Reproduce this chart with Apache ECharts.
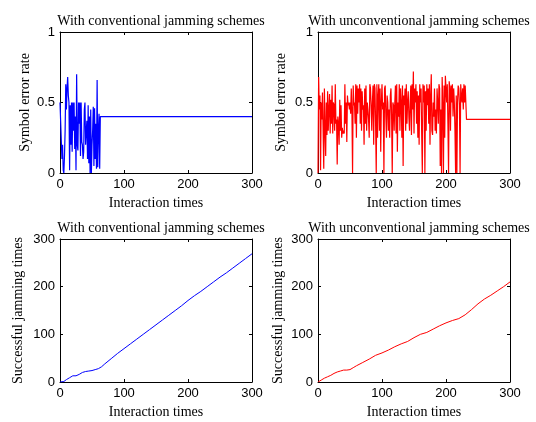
<!DOCTYPE html>
<html><head><meta charset="utf-8">
<script src="https://cdn.jsdelivr.net/npm/echarts@6/dist/echarts.min.js"></script>
<style>html,body{margin:0;padding:0;background:#fff}#c{width:536px;height:422px}</style>
</head><body><div id="c"></div>
<script>
// ---- data ----
const titles = ["With conventional jamming schemes","With unconventional jamming schemes","With conventional jamming schemes","With unconventional jamming schemes"];
const xName = "Interaction times";
const yNameTop = "Symbol error rate";
const yNameBottom = "Successful jamming times";
const xTicks = [0,100,200,300];
const yTicksTop = [0,0.5,1];
const yTicksBottom = [0,100,200,300];

// symbol error rate, conventional (x = index), then steady value to x=300
const serConv = [0.5,0.5,0.5,0.1,0.2,0.02,0.0,0.12,0.3,0.63,0.45,0.6,0.68,0.55,0.5,0.02,0.48,0.2,0.5,0.15,0.5,0.3,0.5,0.17,0.4,0.02,0.7,0.2,0.16,0.5,0.35,0.5,0.12,0.5,0.22,0.2,0.1,0.15,0.45,0.5,0.2,0.3,0.37,0.1,0.48,0.07,0.4,0.0,0.45,0.0,0.2,0.3,0.47,0.05,0.46,0.1,0.35,0.03,0.66,0.04,0.3,0.42,0.03,0.4];
const serConvSteady = 0.4;

// symbol error rate, unconventional
const serUnconv = [
0.0,0.68,0.45,0.55,0.02,0.5,0.38,0.57,0.3,0.03,
0.6,0.3,0.12,0.5,0.27,0.58,0.3,0.45,0.56,0.28,
0.52,0.35,0.62,0.28,0.5,0.48,0.3,0.63,0.35,0.38,
0.06,0.4,0.35,0.2,0.52,0.3,0.48,0.25,0.32,0.28,
0.3,0.28,0.63,0.35,0.5,0.22,0.55,0.48,0.5,0.45,
0.5,0.42,0.6,0.44,0.0,0.62,0.48,0.5,0.35,0.63,
0.25,0.62,0.42,0.6,0.5,0.63,0.35,0.6,0.3,0.58,
0.45,0.48,0.2,0.6,0.35,0.62,0.3,0.5,0.45,0.38,
0.25,0.63,0.6,0.48,0.3,0.5,0.62,0.2,0.63,0.6,
0.35,0.0,0.63,0.25,0.55,0.63,0.3,0.6,0.15,0.5,
0.63,0.45,0.5,0.0,0.6,0.62,0.4,0.25,0.55,0.5,
0.3,0.45,0.25,0.55,0.6,0.4,0.0,0.5,0.48,0.3,
0.5,0.62,0.28,0.63,0.15,0.5,0.4,0.63,0.3,0.6,
0.5,0.25,0.62,0.05,0.55,0.48,0.6,0.3,0.63,0.35,
0.5,0.58,0.4,0.3,0.5,0.62,0.27,0.63,0.45,0.72,
0.28,0.6,0.5,0.63,0.35,0.58,0.25,0.55,0.2,0.63,
0.5,0.6,0.28,0.0,0.63,0.5,0.62,0.0,0.58,0.3,
0.63,0.48,0.6,0.35,0.63,0.2,0.55,0.7,0.3,0.27,
0.5,0.4,0.6,0.3,0.45,0.28,0.6,0.5,0.35,0.63,
0.6,0.05,0.45,0.0,0.68,0.48,0.0,0.62,0.25,0.69,
0.6,0.5,0.63,0.35,0.0,0.65,0.6,0.3,0.62,0.5,
0.63,0.4,0.6,0.5,0.3,0.0,0.55,0.0,0.5,0.62,
0.6,0.48,0.0,0.63,0.55,0.5,0.6,0.45,0.63,0.5,
0.62,0.5,0.38];
const serUnconvSteady = 0.38;
const xEnd = 300;

// cumulative successful jamming times
const cumConvX = [0,3,6,10,15,20,25,30,35,40,45,50,55,60,65,70,80,90,100,110,120,130,140,150,160,170,180,190,200,210,220,230,240,250,260,270,280,290,300];
const cumConvY = [0,0,1,5,9,13,13,16,20,22,23,24,26,28,32,38,49,60,70,80,90,100,110,120,130,140,150,160,171,181,190,200,210,220,229,239,249,259,269];
const cumUnconvX = [0,5,10,15,20,25,30,35,40,45,50,55,60,70,80,90,100,110,120,130,140,150,160,170,180,190,200,210,220,230,240,250,260,270,280,290,300];
const cumUnconvY = [0,4,8,11,14,18,21,23,25,25,26,30,34,41,48,56,61,67,74,80,85,93,100,104,111,118,124,129,133,141,152,164,174,182,191,200,210];

// ---- chart ----
const sans = "Liberation Sans, Arial, sans-serif";
const serif = "Liberation Serif, Times New Roman, serif";
const grids = [
  {left:60, top:32, width:192, height:141},
  {left:318, top:32, width:192, height:141},
  {left:60, top:239, width:192, height:143},
  {left:318, top:239, width:192, height:143}
];
const yGaps = [28, 30, 35, 33];

const xAxes = [], yAxes = [];
grids.forEach((g, i) => {
  const top = i < 2;
  const ticksY = top ? yTicksTop : yTicksBottom;
  const base = {
    gridIndex: i, type: 'value', min: xTicks[0], max: xTicks[xTicks.length-1],
    interval: xTicks[1]-xTicks[0], splitLine:{show:false},
    axisLine:{show:true, onZero:false, lineStyle:{color:'#000', width:1}},
    axisTick:{show:true, inside:true, length:3, lineStyle:{color:'#000'}}
  };
  xAxes.push(Object.assign({}, base, {position:'bottom', name:xName, nameLocation:'middle', nameGap:23,
    nameTextStyle:{fontFamily:serif, fontSize:14, color:'#000'},
    axisLabel:{show:true, margin:5, fontFamily:sans, fontSize:13, color:'#000'}}));
  xAxes.push(Object.assign({}, base, {position:'top', axisLabel:{show:false}}));
  const ybase = {
    gridIndex: i, type: 'value', min: ticksY[0], max: ticksY[ticksY.length-1],
    interval: ticksY[1]-ticksY[0], splitLine:{show:false},
    axisLine:{show:true, onZero:false, lineStyle:{color:'#000', width:1}},
    axisTick:{show:true, inside:true, length:3, lineStyle:{color:'#000'}}
  };
  yAxes.push(Object.assign({}, ybase, {position:'left', name: top ? yNameTop : yNameBottom, nameLocation:'middle', nameGap:yGaps[i],
    nameTextStyle:{fontFamily:serif, fontSize:14, color:'#000'},
    axisLabel:{show:true, margin:5, fontFamily:sans, fontSize:13, color:'#000'}}));
  yAxes.push(Object.assign({}, ybase, {position:'right', axisLabel:{show:false}}));
});

const serConvData = serConv.map((v,i)=>[i,v]).concat([[xEnd, serConvSteady]]);
const serUnconvData = serUnconv.map((v,i)=>[i,v]).concat([[xEnd, serUnconvSteady]]);
const cumConvData = cumConvX.map((x,i)=>[x, cumConvY[i]]);
const cumUnconvData = cumUnconvX.map((x,i)=>[x, cumUnconvY[i]]);

const mk = (idx, data, color, w) => ({type:'line', xAxisIndex: idx*2, yAxisIndex: idx*2, data, showSymbol:false,
  lineStyle:{color, width:w}, itemStyle:{color}, animation:false, silent:true});

const option = {
  animation:false,
  title: grids.map((g,i)=>({text:titles[i], left: g.left + g.width/2, top: i<2 ? 9 : 216, textAlign:'center',
    textStyle:{fontFamily:serif, fontSize:14, fontWeight:'normal', color:'#000'}})),
  grid: grids,
  xAxis: xAxes,
  yAxis: yAxes,
  series: [
    mk(0, serConvData, '#0000ff', 1.2),
    mk(1, serUnconvData, '#ff0000', 1.2),
    mk(2, cumConvData, '#0000ff', 1),
    mk(3, cumUnconvData, '#ff0000', 1)
  ]
};
const chart = echarts.init(document.getElementById('c'), null, {renderer:'canvas'});
chart.setOption(option);
</script>
</body></html>
